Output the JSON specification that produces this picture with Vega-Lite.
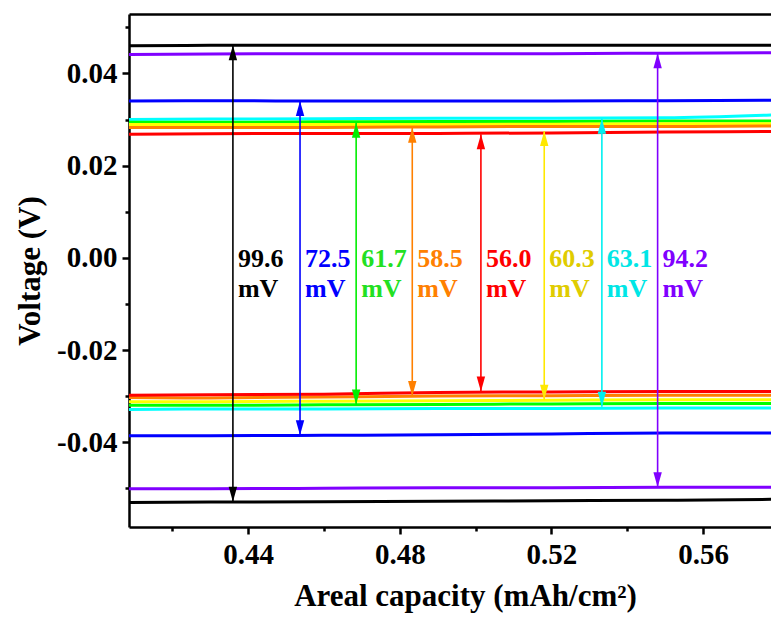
{
  "$schema": "https://vega.github.io/schema/vega-lite/v6.json",
  "width": 642,
  "height": 513,
  "autosize": "none",
  "padding": {"left": 129, "top": 14, "right": 0, "bottom": 103},
  "config": {"view": {"stroke": null}, "font": "Liberation Serif"},
  "datasets": {
    "lines": [
      {"s":"K","b":"u","x":0.4086,"v":0.0460},{"s":"K","b":"u","x":0.43,"v":0.0461},{"s":"K","b":"u","x":0.46,"v":0.0461},{"s":"K","b":"u","x":0.49,"v":0.0461},{"s":"K","b":"u","x":0.52,"v":0.0461},{"s":"K","b":"u","x":0.55,"v":0.0461},{"s":"K","b":"u","x":0.578,"v":0.0461},
      {"s":"P","b":"u","x":0.4086,"v":0.0441},{"s":"P","b":"u","x":0.43,"v":0.0442},{"s":"P","b":"u","x":0.46,"v":0.0443},{"s":"P","b":"u","x":0.49,"v":0.0443},{"s":"P","b":"u","x":0.52,"v":0.0443},{"s":"P","b":"u","x":0.55,"v":0.0444},{"s":"P","b":"u","x":0.578,"v":0.0445},
      {"s":"B","b":"u","x":0.4086,"v":0.0340},{"s":"B","b":"u","x":0.43,"v":0.0341},{"s":"B","b":"u","x":0.46,"v":0.0340},{"s":"B","b":"u","x":0.49,"v":0.0340},{"s":"B","b":"u","x":0.52,"v":0.0340},{"s":"B","b":"u","x":0.55,"v":0.0341},{"s":"B","b":"u","x":0.578,"v":0.0342},
      {"s":"C","b":"u","x":0.4086,"v":0.0300},{"s":"C","b":"u","x":0.43,"v":0.0301},{"s":"C","b":"u","x":0.46,"v":0.0302},{"s":"C","b":"u","x":0.49,"v":0.0303},{"s":"C","b":"u","x":0.52,"v":0.0303},{"s":"C","b":"u","x":0.55,"v":0.0304},{"s":"C","b":"u","x":0.578,"v":0.0310},
      {"s":"G","b":"u","x":0.4086,"v":0.0294},{"s":"G","b":"u","x":0.43,"v":0.0294},{"s":"G","b":"u","x":0.46,"v":0.0295},{"s":"G","b":"u","x":0.49,"v":0.0296},{"s":"G","b":"u","x":0.52,"v":0.0296},{"s":"G","b":"u","x":0.55,"v":0.0297},{"s":"G","b":"u","x":0.578,"v":0.0297},
      {"s":"Y","b":"u","x":0.4086,"v":0.0289},{"s":"Y","b":"u","x":0.43,"v":0.0289},{"s":"Y","b":"u","x":0.46,"v":0.0289},{"s":"Y","b":"u","x":0.49,"v":0.0289},{"s":"Y","b":"u","x":0.52,"v":0.0290},{"s":"Y","b":"u","x":0.55,"v":0.0291},{"s":"Y","b":"u","x":0.578,"v":0.0291},
      {"s":"O","b":"u","x":0.4086,"v":0.0283},{"s":"O","b":"u","x":0.43,"v":0.0283},{"s":"O","b":"u","x":0.46,"v":0.0283},{"s":"O","b":"u","x":0.49,"v":0.0284},{"s":"O","b":"u","x":0.52,"v":0.0285},{"s":"O","b":"u","x":0.55,"v":0.0285},{"s":"O","b":"u","x":0.578,"v":0.0286},
      {"s":"R","b":"u","x":0.4086,"v":0.0268},{"s":"R","b":"u","x":0.43,"v":0.0269},{"s":"R","b":"u","x":0.46,"v":0.0270},{"s":"R","b":"u","x":0.49,"v":0.0270},{"s":"R","b":"u","x":0.52,"v":0.0271},{"s":"R","b":"u","x":0.55,"v":0.0273},{"s":"R","b":"u","x":0.578,"v":0.0274},
      {"s":"K","b":"l","x":0.4086,"v":-0.0531},{"s":"K","b":"l","x":0.43,"v":-0.0530},{"s":"K","b":"l","x":0.46,"v":-0.0529},{"s":"K","b":"l","x":0.49,"v":-0.0528},{"s":"K","b":"l","x":0.52,"v":-0.0527},{"s":"K","b":"l","x":0.55,"v":-0.0526},{"s":"K","b":"l","x":0.578,"v":-0.0524},
      {"s":"P","b":"l","x":0.4086,"v":-0.0501},{"s":"P","b":"l","x":0.43,"v":-0.0501},{"s":"P","b":"l","x":0.46,"v":-0.0500},{"s":"P","b":"l","x":0.49,"v":-0.0499},{"s":"P","b":"l","x":0.52,"v":-0.0499},{"s":"P","b":"l","x":0.55,"v":-0.0498},{"s":"P","b":"l","x":0.578,"v":-0.0498},
      {"s":"B","b":"l","x":0.4086,"v":-0.0386},{"s":"B","b":"l","x":0.43,"v":-0.0386},{"s":"B","b":"l","x":0.46,"v":-0.0385},{"s":"B","b":"l","x":0.49,"v":-0.0384},{"s":"B","b":"l","x":0.52,"v":-0.0382},{"s":"B","b":"l","x":0.55,"v":-0.0380},{"s":"B","b":"l","x":0.578,"v":-0.0380},
      {"s":"C","b":"l","x":0.4086,"v":-0.0329},{"s":"C","b":"l","x":0.43,"v":-0.0328},{"s":"C","b":"l","x":0.46,"v":-0.0328},{"s":"C","b":"l","x":0.49,"v":-0.0327},{"s":"C","b":"l","x":0.52,"v":-0.0327},{"s":"C","b":"l","x":0.55,"v":-0.0326},{"s":"C","b":"l","x":0.578,"v":-0.0326},
      {"s":"G","b":"l","x":0.4086,"v":-0.0320},{"s":"G","b":"l","x":0.43,"v":-0.0320},{"s":"G","b":"l","x":0.46,"v":-0.0319},{"s":"G","b":"l","x":0.49,"v":-0.0318},{"s":"G","b":"l","x":0.52,"v":-0.0317},{"s":"G","b":"l","x":0.55,"v":-0.0316},{"s":"G","b":"l","x":0.578,"v":-0.0316},
      {"s":"Y","b":"l","x":0.4086,"v":-0.0312},{"s":"Y","b":"l","x":0.43,"v":-0.0312},{"s":"Y","b":"l","x":0.46,"v":-0.0311},{"s":"Y","b":"l","x":0.49,"v":-0.0310},{"s":"Y","b":"l","x":0.52,"v":-0.0309},{"s":"Y","b":"l","x":0.55,"v":-0.0308},{"s":"Y","b":"l","x":0.578,"v":-0.0308},
      {"s":"O","b":"l","x":0.4086,"v":-0.0303},{"s":"O","b":"l","x":0.43,"v":-0.0304},{"s":"O","b":"l","x":0.46,"v":-0.0302},{"s":"O","b":"l","x":0.49,"v":-0.0300},{"s":"O","b":"l","x":0.52,"v":-0.0299},{"s":"O","b":"l","x":0.55,"v":-0.0298},{"s":"O","b":"l","x":0.578,"v":-0.0298},
      {"s":"R","b":"l","x":0.4086,"v":-0.0298},{"s":"R","b":"l","x":0.43,"v":-0.0297},{"s":"R","b":"l","x":0.46,"v":-0.0296},{"s":"R","b":"l","x":0.49,"v":-0.0292},{"s":"R","b":"l","x":0.52,"v":-0.0291},{"s":"R","b":"l","x":0.55,"v":-0.0290},{"s":"R","b":"l","x":0.578,"v":-0.0290}
    ],
    "arrows": [
      {"s":"K","x":0.4360,"top":0.0461,"bot":-0.0529,"val":"99.6"},
      {"s":"B","x":0.4537,"top":0.0340,"bot":-0.0385,"val":"72.5"},
      {"s":"G","x":0.4685,"top":0.0293,"bot":-0.0318,"val":"61.7"},
      {"s":"O","x":0.4833,"top":0.0282,"bot":-0.0300,"val":"58.5"},
      {"s":"R","x":0.5014,"top":0.0268,"bot":-0.0290,"val":"56.0"},
      {"s":"Y","x":0.5181,"top":0.0275,"bot":-0.0308,"val":"60.3"},
      {"s":"C","x":0.5333,"top":0.0302,"bot":-0.0323,"val":"63.1"},
      {"s":"P","x":0.5480,"top":0.0444,"bot":-0.0498,"val":"94.2"}
    ]
  },
  "layer": [
    {
      "data": {"name": "lines"},
      "mark": {"type": "point", "opacity": 0},
      "encoding": {
        "x": {"field": "x", "type": "quantitative", "scale": {"domain": [0.4086, 0.5779], "nice": false, "zero": false},
          "axis": {"orient": "top", "domain": true, "domainColor": "#000000", "domainWidth": 2.5, "ticks": false, "labels": false, "grid": false, "title": null}},
        "y": {"field": "v", "type": "quantitative", "axis": null}
      }
    },
    {
      "data": {"name": "lines"},
      "mark": {"type": "line", "strokeWidth": 3, "interpolate": "monotone"},
      "encoding": {
        "x": {"field": "x", "type": "quantitative", "scale": {"domain": [0.4086, 0.5779], "nice": false, "zero": false},
          "axis": {"orient": "bottom", "values": [0.42, 0.44, 0.46, 0.48, 0.50, 0.52, 0.54, 0.56, 0.58], "format": ".2f",
            "labelExpr": "round(datum.value*100) % 4 == 0 ? datum.label : ''",
            "title": "Areal capacity (mAh/cm²)", "grid": false,
            "labelFont": "Liberation Serif", "labelFontWeight": "bold", "labelFontSize": 29, "labelColor": "#000000", "labelPadding": 6,
            "tickColor": "#000000", "tickWidth": 2.5,
            "tickSize": {"condition": {"test": "round(datum.value*100) % 4 == 0", "value": 7}, "value": 4},
            "domainColor": "#000000", "domainWidth": 2.5,
            "titleFont": "Liberation Serif", "titleFontWeight": "bold", "titleFontSize": 31, "titleColor": "#000000", "titlePadding": 12, "titleX": 336}},
        "y": {"field": "v", "type": "quantitative", "scale": {"domain": [-0.0584, 0.0529], "nice": false, "zero": false},
          "axis": {"orient": "left", "values": [-0.05, -0.04, -0.03, -0.02, -0.01, 0, 0.01, 0.02, 0.03, 0.04, 0.05], "format": ".2f",
            "labelExpr": "abs(round(datum.value*100)) % 2 == 0 ? replace(datum.label, '−', '-') : ''",
            "title": "Voltage (V)", "grid": false,
            "labelFont": "Liberation Serif", "labelFontWeight": "bold", "labelFontSize": 29, "labelColor": "#000000", "labelPadding": 5,
            "tickColor": "#000000", "tickWidth": 2.5,
            "tickSize": {"condition": {"test": "abs(round(datum.value*100)) % 2 == 0", "value": 7}, "value": 4},
            "domainColor": "#000000", "domainWidth": 2.5,
            "titleFont": "Liberation Serif", "titleFontWeight": "bold", "titleFontSize": 31, "titleColor": "#000000", "titlePadding": 10}},
        "color": {"field": "s", "type": "nominal", "legend": null,
          "scale": {"domain": ["K","P","B","C","G","Y","O","R"], "range": ["#000000","#8000FF","#0000FF","#00FFFF","#00FF00","#FFFF00","#FF8000","#FF0000"]}},
        "detail": {"field": "b"},
        "order": {"field": "x", "type": "quantitative"}
      }
    },
    {
      "data": {"name": "arrows"},
      "mark": {"type": "rule", "strokeWidth": 1.6},
      "encoding": {
        "x": {"field": "x", "type": "quantitative", "axis": null},
        "y": {"field": "top", "type": "quantitative", "axis": null},
        "y2": {"field": "bot"},
        "color": {"field": "s", "type": "nominal", "legend": null,
          "scale": {"domain": ["K","P","B","C","G","Y","O","R"], "range": ["#000000","#8000FF","#0000FF","#00F0F0","#00EE00","#FFE800","#FF8000","#FF0000"]}}
      }
    },
    {
      "data": {"name": "arrows"},
      "mark": {"type": "point", "filled": true, "opacity": 1, "size": 900, "strokeWidth": 0, "shape": "M0,0L-0.28,1L0.28,1Z"},
      "encoding": {
        "x": {"field": "x", "type": "quantitative", "axis": null},
        "y": {"field": "top", "type": "quantitative", "axis": null},
        "color": {"field": "s", "type": "nominal", "legend": null,
          "scale": {"domain": ["K","P","B","C","G","Y","O","R"], "range": ["#000000","#8000FF","#0000FF","#00F0F0","#00EE00","#FFE800","#FF8000","#FF0000"]}}
      }
    },
    {
      "data": {"name": "arrows"},
      "mark": {"type": "point", "filled": true, "opacity": 1, "size": 900, "strokeWidth": 0, "shape": "M0,0L-0.28,-1L0.28,-1Z"},
      "encoding": {
        "x": {"field": "x", "type": "quantitative", "axis": null},
        "y": {"field": "bot", "type": "quantitative", "axis": null},
        "color": {"field": "s", "type": "nominal", "legend": null,
          "scale": {"domain": ["K","P","B","C","G","Y","O","R"], "range": ["#000000","#8000FF","#0000FF","#00F0F0","#00EE00","#FFE800","#FF8000","#FF0000"]}}
      }
    },
    {
      "data": {"name": "arrows"},
      "mark": {"type": "text", "align": "left", "baseline": "middle", "dx": 5, "font": "Liberation Serif", "fontWeight": "bold", "fontSize": 26},
      "encoding": {
        "x": {"field": "x", "type": "quantitative", "axis": null},
        "y": {"datum": -0.0002, "type": "quantitative", "axis": null},
        "text": {"field": "val"},
        "color": {"field": "s", "type": "nominal", "legend": null,
          "scale": {"domain": ["K","P","B","C","G","Y","O","R"], "range": ["#000000","#8000FF","#0000FF","#00E6E6","#22E022","#E0CC00","#FF8000","#FF0000"]}}
      }
    },
    {
      "data": {"name": "arrows"},
      "mark": {"type": "text", "align": "left", "baseline": "middle", "dx": 5, "font": "Liberation Serif", "fontWeight": "bold", "fontSize": 26},
      "encoding": {
        "x": {"field": "x", "type": "quantitative", "axis": null},
        "y": {"datum": -0.0067, "type": "quantitative", "axis": null},
        "text": {"value": "mV"},
        "color": {"field": "s", "type": "nominal", "legend": null,
          "scale": {"domain": ["K","P","B","C","G","Y","O","R"], "range": ["#000000","#8000FF","#0000FF","#00E6E6","#22E022","#E0CC00","#FF8000","#FF0000"]}}
      }
    }
  ],
  "resolve": {"axis": {"x": "independent", "y": "independent"}, "scale": {"color": "independent"}}
}
